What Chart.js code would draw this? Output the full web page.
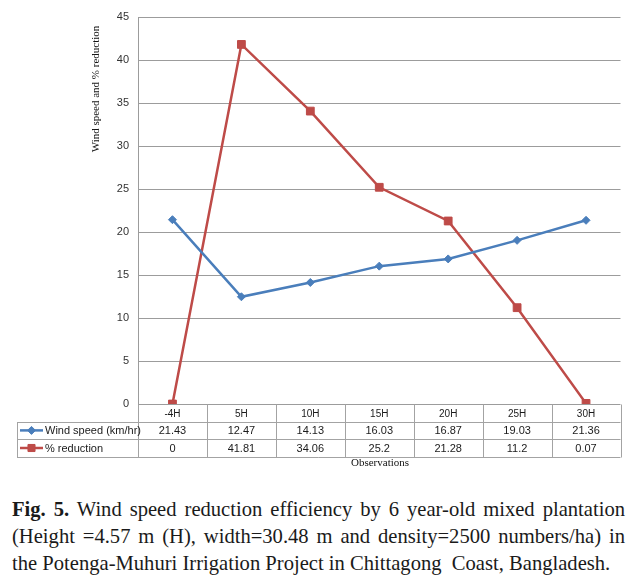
<!DOCTYPE html>
<html>
<head>
<meta charset="utf-8">
<script src="https://cdn.jsdelivr.net/npm/chart.js@4.4.1/dist/chart.umd.min.js"></script>
<style>
  html, body { margin:0; padding:0; background:#fff; }
  body { width:643px; height:582px; position:relative; overflow:hidden; }
  #wrap { position:absolute; left:0; top:0; width:643px; height:480px; }
  .cap { position:absolute; left:12px; width:613px; font-family:"Liberation Serif","Times New Roman",serif; font-size:20.6px; line-height:27px; color:#1a1a1a; white-space:nowrap; }
  .just { text-align:justify; text-align-last:justify; white-space:normal; }
</style>
</head>
<body>
<div id="wrap"><canvas id="c" width="643" height="480"></canvas></div>
<div class="cap just" style="top:496px;"><b>Fig. 5.</b> Wind speed reduction efficiency by 6 year-old mixed plantation</div>
<div class="cap just" style="top:523px;">(Height =4.57 m (H), width=30.48 m and density=2500 numbers/ha) in</div>
<div class="cap" style="top:550px;">the Potenga-Muhuri Irrigation Project in Chittagong&nbsp; Coast, Bangladesh.</div>
<script>
const categories = ['-4H', '5H', '10H', '15H', '20H', '25H', '30H'];
const windSpeed = [21.43, 12.47, 14.13, 16.03, 16.87, 19.03, 21.36];
const reduction = [0, 41.81, 34.06, 25.2, 21.28, 11.2, 0.07];
const seriesNames = ['Wind speed (km/hr)', '% reduction'];
const yAxisTitle = 'Wind speed and % reduction';
const xAxisTitle = 'Observations';
const yMin = 0, yMax = 45, yStep = 5;

const BLUE = '#4A7EBB', RED = '#BE4B48';
const LINE = '#a3a3a3';
const SANS = '"Liberation Sans", Arial, sans-serif';
const SERIF = '"Liberation Serif", "Times New Roman", serif';

const tablePlugin = {
  id: 'dataTable',
  afterDraw(chart) {
    const ctx = chart.ctx;
    const xs = chart.scales.x;
    const area = chart.chartArea;
    const n = categories.length;
    const colW = (area.right - area.left) / n;
    const legendLeft = 17;
    const rowH = 17.6;
    const y0 = area.bottom, y1 = y0 + rowH, y2 = y1 + rowH, y3 = y2 + rowH;
    const px = v => Math.round(v) + 0.5;
    ctx.save();
    ctx.strokeStyle = LINE;
    ctx.lineWidth = 1;
    ctx.beginPath();
    [y1, y2, y3].forEach(y => { ctx.moveTo(legendLeft, px(y)); ctx.lineTo(area.right, px(y)); });
    ctx.moveTo(px(legendLeft), px(y1)); ctx.lineTo(px(legendLeft), px(y3));
    for (let k = 0; k <= n; k++) {
      const x = px(area.left + k * colW);
      ctx.moveTo(x, px(y0)); ctx.lineTo(x, px(y3));
    }
    ctx.stroke();

    // values
    ctx.fillStyle = '#1a1a1a';
    ctx.font = '11px ' + SANS;
    ctx.textAlign = 'center';
    ctx.textBaseline = 'middle';
    const rows = [windSpeed, reduction];
    rows.forEach((arr, r) => {
      const yc = (r === 0 ? (y1 + y2) / 2 : (y2 + y3) / 2) + 0.5;
      arr.forEach((v, i) => {
        ctx.fillText(String(v), xs.getPixelForValue(i), yc);
      });
    });

    // legend keys
    const cols = [BLUE, RED];
    const styles = [{pointStyle:'rectRot', radius:4}, {pointStyle:'rect', radius:5}];
    rows.forEach((arr, r) => {
      const yc = r === 0 ? (y1 + y2) / 2 : (y2 + y3) / 2;
      ctx.strokeStyle = cols[r];
      ctx.lineWidth = 2.5;
      ctx.beginPath();
      ctx.moveTo(20, yc); ctx.lineTo(43, yc);
      ctx.stroke();
      ctx.fillStyle = cols[r];
      ctx.strokeStyle = cols[r];
      ctx.lineWidth = 1;
      Chart.helpers.drawPoint(ctx, {pointStyle: styles[r].pointStyle, radius: styles[r].radius, rotation: 0, borderWidth: 1}, 31.5, yc);
      ctx.fillStyle = '#1a1a1a';
      ctx.textAlign = 'left';
      ctx.font = '11px ' + SANS;
      ctx.fillText(seriesNames[r], 45, yc + 0.5);
    });

    // axis titles
    ctx.fillStyle = '#111';
    ctx.font = '11px ' + SERIF;
    ctx.textAlign = 'center';
    ctx.textBaseline = 'middle';
    ctx.fillText(xAxisTitle, 380, 463);
    ctx.save();
    ctx.translate(96.5, 89);
    ctx.rotate(-Math.PI / 2);
    ctx.fillText(yAxisTitle, 0, 0);
    ctx.restore();
    ctx.restore();
  }
};

new Chart(document.getElementById('c'), {
  type: 'line',
  data: {
    labels: categories,
    datasets: [
      { label: seriesNames[0], data: windSpeed, borderColor: BLUE, backgroundColor: BLUE,
        borderWidth: 2.5, pointStyle: 'rectRot', pointRadius: 4, pointBorderWidth: 1, tension: 0 },
      { label: seriesNames[1], data: reduction, borderColor: RED, backgroundColor: RED,
        borderWidth: 2.5, pointStyle: 'rect', pointRadius: 5.5, pointBorderWidth: 1, tension: 0 }
    ]
  },
  options: {
    responsive: false,
    animation: false,
    devicePixelRatio: 1,
    layout: { padding: { left: 0, top: 17, right: 22.5, bottom: 0 } },
    plugins: { legend: { display: false }, tooltip: { enabled: false } },
    scales: {
      x: {
        offset: true,
        grid: { display: false, drawTicks: false },
        border: { display: false },
        ticks: { padding: 4, color: '#1a1a1a', font: { family: SANS, size: 10 }, maxRotation: 0, autoSkip: false },
        afterFit: s => { s.height = 76; }
      },
      y: {
        min: yMin, max: yMax,
        ticks: { stepSize: yStep, padding: 9, color: '#333', font: { family: SANS, size: 11 } },
        grid: { color: '#9c9c9c', drawTicks: false },
        border: { color: '#9c9c9c' },
        afterFit: s => { s.width = 138; }
      }
    }
  },
  plugins: [tablePlugin]
});
</script>
</body>
</html>
